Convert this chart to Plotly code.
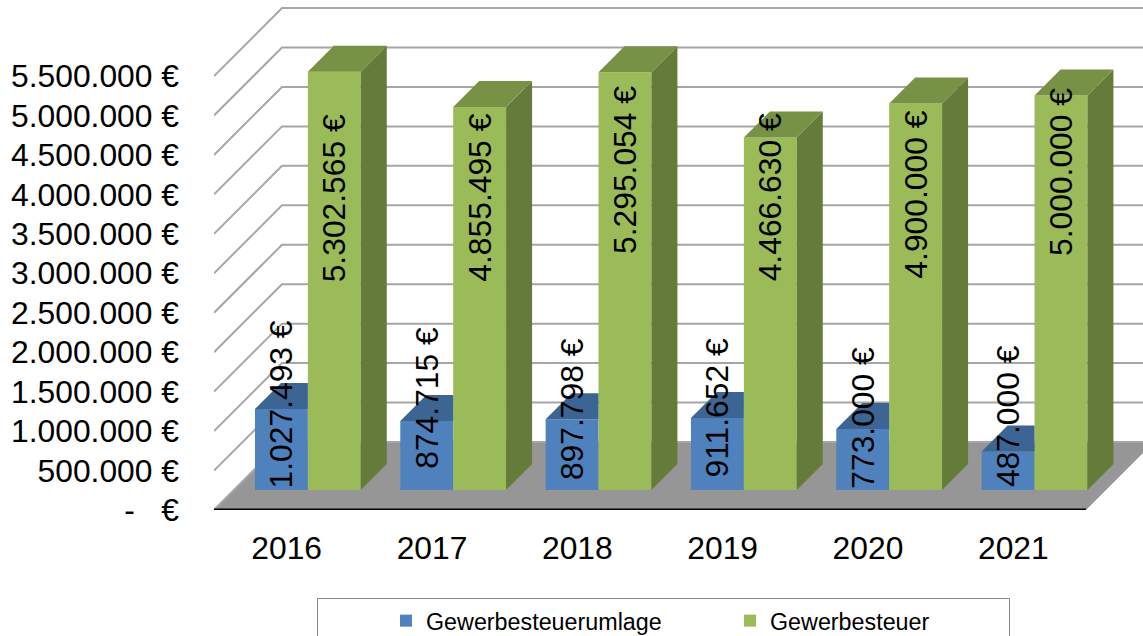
import plotly.graph_objects as go

# ---------- data ----------
years = ["2016", "2017", "2018", "2019", "2020", "2021"]
umlage = [1027493, 874715, 897798, 911652, 773000, 487000]
steuer = [5302565, 4855495, 5295054, 4466630, 4900000, 5000000]
umlage_labels = ["1.027.493 €", "874.715 €", "897.798 €", "911.652 €", "773.000 €", "487.000 €"]
steuer_labels = ["5.302.565 €", "4.855.495 €", "5.295.054 €", "4.466.630 €", "4.900.000 €", "5.000.000 €"]
tick_values = [0, 500000, 1000000, 1500000, 2000000, 2500000, 3000000,
               3500000, 4000000, 4500000, 5000000, 5500000]
tick_labels = ["-   €", "500.000 €", "1.000.000 €", "1.500.000 €", "2.000.000 €", "2.500.000 €",
               "3.000.000 €", "3.500.000 €", "4.000.000 €", "4.500.000 €", "5.000.000 €", "5.500.000 €"]

# ---------- projection of the fake 3D box ----------
W, H = 1143, 636
LEFT, BASELINE = 214, 510
CAT_PX = 145.33
VAL_PER_PX = 500000 / 39.45
WALL_DEPTH = 68
BAR_DEPTH = 26
FLOOR_LIFT = 20


def dx(px):
    return px / CAT_PX


def dv(px):
    return px * VAL_PER_PX


x_min = -0.5
x_max = x_min + dx(W - LEFT)
x_front_right = x_min + 6
y_max = dv(BASELINE)
bar_base = dv(FLOOR_LIFT)
bar_w = dx(52.9)
off_blue = dx(-31.7)
off_green = off_blue + bar_w
d_x, d_v = dx(BAR_DEPTH), dv(BAR_DEPTH)

BLUE, BLUE_TOP = "#4F81BD", "#3C6594"
GREEN, GREEN_TOP, GREEN_SIDE = "#9BBB59", "#779145", "#657B3A"
GRID, FLOOR = "#A6A6A6", "#969696"
FONT = "Liberation Sans"

fig = go.Figure()
idx = list(range(len(years)))

fig.add_bar(x=idx, y=umlage, base=bar_base, offset=off_blue, width=bar_w,
            name="Gewerbesteuerumlage", marker=dict(color=BLUE, line_width=0))
fig.add_bar(x=idx, y=steuer, base=bar_base, offset=off_green, width=bar_w,
            name="Gewerbesteuer", marker=dict(color=GREEN, line_width=0))


def faces(polys, color):
    xs, ys = [], []
    for poly in polys:
        xs += [p[0] for p in poly] + [poly[0][0], None]
        ys += [p[1] for p in poly] + [poly[0][1], None]
    fig.add_scatter(x=xs, y=ys, mode="lines", fill="toself", fillcolor=color,
                    line=dict(width=0, color=color), showlegend=False, hoverinfo="skip")


blue_tops, green_tops, green_sides = [], [], []
for i in idx:
    bl = i + off_blue
    mid = bl + bar_w
    gr = mid + bar_w
    tb = bar_base + umlage[i]
    tg = bar_base + steuer[i]
    blue_tops.append([(bl, tb), (mid, tb), (mid, tb + d_v), (bl + d_x, tb + d_v)])
    green_tops.append([(mid, tg), (gr, tg), (gr + d_x, tg + d_v), (mid + d_x, tg + d_v)])
    green_sides.append([(gr, bar_base), (gr + d_x, bar_base + d_v), (gr + d_x, tg + d_v), (gr, tg)])
faces(blue_tops, BLUE_TOP)
faces(green_sides, GREEN_SIDE)
faces(green_tops, GREEN_TOP)

# wall gridlines and floor, under the bars
shapes = []
wx, wv = dx(WALL_DEPTH), dv(WALL_DEPTH)
shapes.append(dict(type="path", xref="x", yref="y", layer="below", fillcolor=FLOOR, line=dict(width=0),
                   path=f"M{x_min},0 L{x_front_right},0 L{x_front_right + wx},{wv} L{x_min + wx},{wv} Z"))
for v in tick_values:
    shapes.append(dict(type="path", xref="x", yref="y", layer="below", line=dict(color=GRID, width=2),
                       path=f"M{x_min},{v} L{x_min + wx},{v + wv} L{x_max},{v + wv}"))
shapes.append(dict(type="line", xref="x", yref="y", x0=x_min, x1=x_front_right, y0=0, y1=0,
                   line=dict(color="black", width=3)))
# legend frame, cut off by the bottom of the page
shapes.append(dict(type="rect", xref="paper", yref="paper", layer="below",
                   x0=(317.5 - LEFT) / (W - LEFT), x1=(1009.5 - LEFT) / (W - LEFT),
                   y0=(H - 640) / H, y1=(H - 598.5) / H,
                   line=dict(color="#868686", width=1), fillcolor="white"))

# data labels: Excel had them placed by hand, vertical centres in page pixels
label_centre_blue = [404, 398, 409, 408, 418, 416]
label_centre_green = [198, 198, 170, 197, 195, 172]
annotations = []
for i in idx:
    for txt, cy, off in ((umlage_labels[i], label_centre_blue[i], off_blue + bar_w / 2),
                         (steuer_labels[i], label_centre_green[i], off_green + bar_w / 2)):
        annotations.append(dict(x=i + off, y=dv(BASELINE - cy), xref="x", yref="y", text=txt,
                                textangle=-90, showarrow=False, xanchor="center", yanchor="middle",
                                font=dict(family=FONT, size=31.8, color="black")))

fig.update_layout(
    width=W, height=H, autosize=False,
    margin=dict(l=LEFT, r=0, t=0, b=0, pad=0, autoexpand=False),
    paper_bgcolor="white", plot_bgcolor="rgba(0,0,0,0)",
    barmode="overlay", shapes=shapes, annotations=annotations,
    font=dict(family=FONT, color="black"),
    xaxis=dict(range=[x_min, x_max], tickmode="array", tickvals=idx, ticktext=years,
               showgrid=False, zeroline=False, showline=False, ticks="",
               ticklabelstandoff=16, tickfont=dict(family=FONT, size=31.8)),
    yaxis=dict(domain=[(H - BASELINE) / H, 1], range=[0, y_max], tickmode="array",
               tickvals=tick_values, ticktext=tick_labels,
               showgrid=False, zeroline=False, showline=False, ticks="",
               ticklabelstandoff=34, tickfont=dict(family=FONT, size=31.8)),
    legend=dict(orientation="h", x=(386 - LEFT) / (W - LEFT), y=(H - 599) / H,
                xanchor="left", yanchor="top", bgcolor="rgba(0,0,0,0)", borderwidth=0,
                entrywidth=299, entrywidthmode="pixels", traceorder="normal",
                font=dict(family=FONT, size=23.3, color="black")),
)

fig.write_html("out.html", config={"displayModeBar": False},
               post_script="document.body.style.margin='0';")
